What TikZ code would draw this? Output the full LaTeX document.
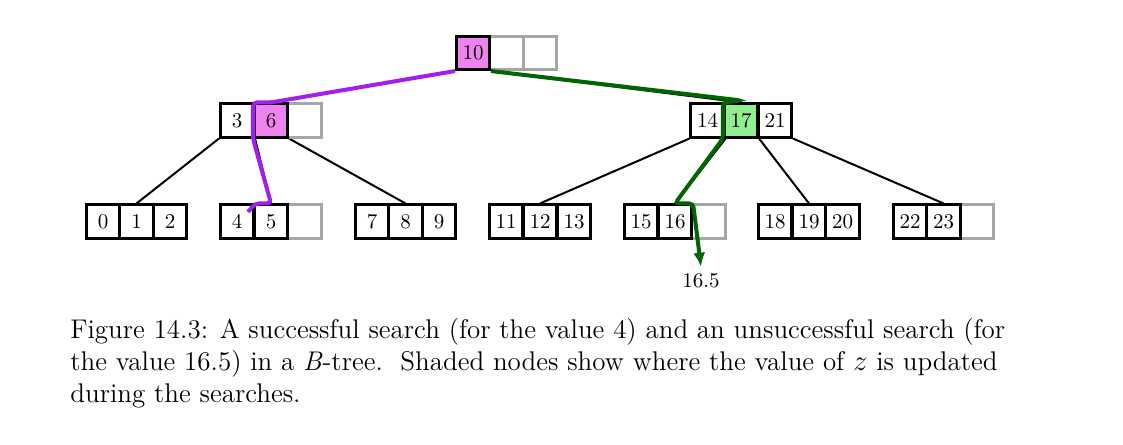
\documentclass[tikz,border=0pt]{standalone}
\usepackage{tikz}
\usetikzlibrary{arrows.meta,backgrounds}
\definecolor{hitline}{HTML}{A020F0}
\definecolor{missline}{HTML}{006400}
\definecolor{hitfill}{HTML}{EE82EE}
\definecolor{missfill}{HTML}{90EE90}
\newcommand{\cellsize}{16.75pt}
\newcommand{\keywidth}{1.3pt}
\newcommand{\searchwidth}{2pt}
\tikzset{
  key/.style={draw, line width=\keywidth, minimum size=\cellsize, inner sep=0pt, font=\fontsize{10.5}{12}\selectfont},
  empty/.style={draw=black!35, line width=\keywidth, minimum size=\cellsize, inner sep=0pt},
  link/.style={line width=1pt},
}

\begin{document}
\begin{tikzpicture}[x=0.5pt, y=-0.5pt]
\useasboundingbox (0,0) rectangle (1123,444);
%empty slots first
\node[empty] (e1) at (506.5, 53) {};
\node[empty] (e2) at (540, 53) {};
\node[empty] (e3) at (304.5, 120.5) {};
\node[empty] (e4) at (304.5, 221.5) {};
\node[empty] (e5) at (708.5, 221.5) {};
\node[empty] (e6) at (977, 221.5) {};
%root
\node[key, fill=hitfill] (k10) at (473, 53) {10};
%internal nodes
\node[key] (k3) at (237, 120.5) {3};
\node[key, fill=hitfill] (k6) at (271, 120.5) {6};
\node[key] (k14) at (707.5, 120.5) {14};
\node[key, fill=missfill] (k17) at (741, 120.5) {17};
\node[key] (k21) at (775, 120.5) {21};
%leaves
\node[key] (k0) at (103, 221.5) {0};
\node[key] (k1) at (136.5, 221.5) {1};
\node[key] (k2) at (170, 221.5) {2};
\node[key] (k4) at (237, 221.5) {4};
\node[key] (k5) at (271, 221.5) {5};
\node[key] (k7) at (372, 221.5) {7};
\node[key] (k8) at (405.5, 221.5) {8};
\node[key] (k9) at (439, 221.5) {9};
\node[key] (k11) at (506, 221.5) {11};
\node[key] (k12) at (540, 221.5) {12};
\node[key] (k13) at (574, 221.5) {13};
\node[key] (k15) at (641, 221.5) {15};
\node[key] (k16) at (675, 221.5) {16};
\node[key] (k18) at (775, 221.5) {18};
\node[key] (k19) at (809, 221.5) {19};
\node[key] (k20) at (842.5, 221.5) {20};
\node[key] (k22) at (910, 221.5) {22};
\node[key] (k23) at (943.5, 221.5) {23};
%child pointers
\begin{scope}[on background layer]
\draw[link] (k10.south west) -- (k6.north);
\draw[link] (k10.south east) -- (k17.north);
\draw[link] (k3.south west) -- (k1.north);
\draw[link] (k3.south east) -- (k5.north);
\draw[link] (k6.south east) -- (k8.north);
\draw[link] (k14.south west) -- (k12.north);
\draw[link] (k14.south east) -- (k16.north);
\draw[link] (k17.south east) -- (k19.north);
\draw[link] (k21.south east) -- (k23.north);
\end{scope}
%searches
\coordinate (found) at (248, 212);
\node[font=\fontsize{10.5}{12}\selectfont] (miss) at (701, 281) {16.5};
\draw[hitline, line width=\searchwidth, rounded corners=2pt] (k10.south west) -- (k6.north) -- (k6.north west) -- (k6.south west) -- (k5.north) -- (k4.north east) -- (found);
\draw[missline, line width=\searchwidth, rounded corners=2pt, -{Latex[length=7pt, width=6pt]}] (k10.south east) -- ([yshift=1pt]k17.north) -- (k17.north west) -- (k17.south west) -- (k16.north) -- (k16.north east) -- (miss.north);
%caption
\node[anchor=north west, align=left, inner sep=0pt, font=\fontsize{13.5}{16}\selectfont] (caption) at (70, 318)
{Figure 14.3: A successful search (for the value 4) and an unsuccessful search (for\\
the value 16.5) in a \textit{B}-tree.\ \ Shaded nodes show where the value of $z$ is updated\\
during the searches.};
\end{tikzpicture}
\end{document}
